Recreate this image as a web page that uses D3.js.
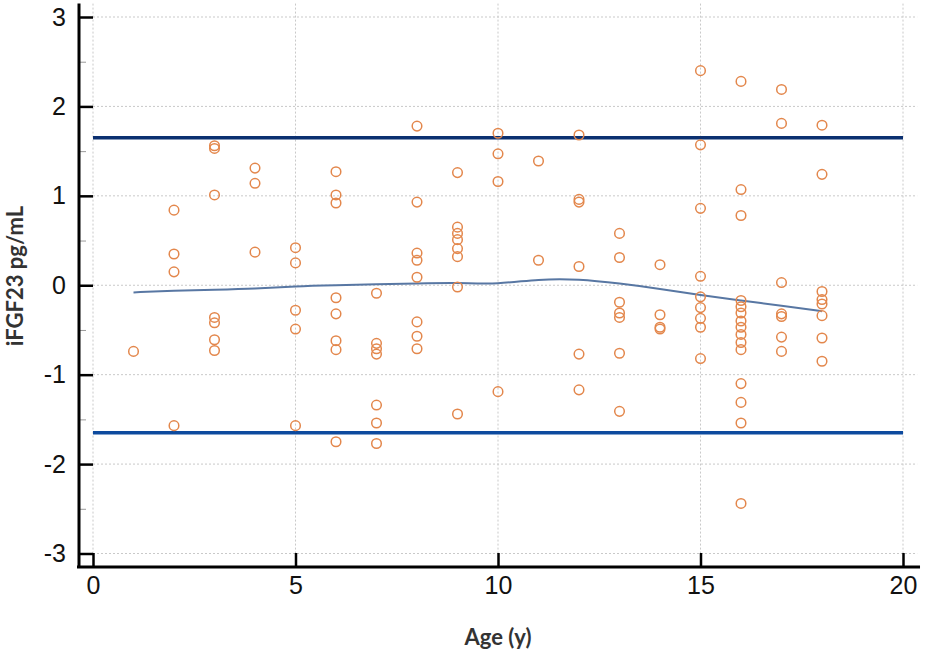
<!DOCTYPE html>
<html>
<head>
<meta charset="utf-8">
<script src="https://cdn.jsdelivr.net/npm/d3@7"></script>
<style>
  body { margin: 0; background: #fff; }
  svg { display: block; }
</style>
</head>
<body>
<div id="chart"></div>
<script>
"use strict"

// ages (years) and iFGF23 z-scores, one entry per point
const ages = [
  1,
  2, 2, 2, 2,
  3, 3, 3, 3, 3, 3, 3,
  4, 4, 4,
  5, 5, 5, 5, 5,
  6, 6, 6, 6, 6, 6, 6, 6,
  7, 7, 7, 7, 7, 7, 7,
  8, 8, 8, 8, 8, 8, 8, 8,
  9, 9, 9, 9, 9, 9, 9, 9,
  10, 10, 10, 10,
  11, 11,
  12, 12, 12, 12, 12, 12,
  13, 13, 13, 13, 13, 13, 13,
  14, 14, 14, 14,
  15, 15, 15, 15, 15, 15, 15, 15, 15,
  16, 16, 16, 16, 16, 16, 16, 16, 16, 16, 16, 16, 16, 16, 16,
  17, 17, 17, 17, 17, 17, 17,
  18, 18, 18, 18, 18, 18, 18, 18
];
const zScores = [
  -0.74,
  0.84, 0.35, 0.15, -1.57,
  1.56, 1.53, 1.01, -0.36, -0.42, -0.61, -0.73,
  1.31, 1.14, 0.37,
  0.42, 0.25, -0.28, -0.49, -1.57,
  1.27, 1.01, 0.92, -0.14, -0.32, -0.62, -0.72, -1.75,
  -0.09, -0.65, -0.71, -0.77, -1.34, -1.54, -1.77,
  1.78, 0.93, 0.36, 0.28, 0.09, -0.41, -0.57, -0.71,
  1.26, 0.65, 0.58, 0.51, 0.41, 0.32, -0.02, -1.44,
  1.70, 1.47, 1.16, -1.19,
  1.39, 0.28,
  1.68, 0.96, 0.93, 0.21, -0.77, -1.17,
  0.58, 0.31, -0.19, -0.31, -0.36, -0.76, -1.41,
  0.23, -0.33, -0.47, -0.49,
  2.40, 1.57, 0.86, 0.10, -0.13, -0.25, -0.37, -0.47, -0.82,
  2.28, 1.07, 0.78, -0.17, -0.24, -0.31, -0.40, -0.47, -0.55, -0.64, -0.72, -1.10, -1.31, -1.54, -2.44,
  2.19, 1.81, 0.03, -0.32, -0.35, -0.58, -0.74,
  1.79, 1.24, -0.07, -0.16, -0.21, -0.34, -0.59, -0.85
];

// smoothed trend line through the points
const trendAges = [1, 2, 3, 4, 5, 6, 7, 8, 9, 10, 11, 12, 13, 14, 15, 16, 17, 18];
const trendValues = [-0.08, -0.06, -0.05, -0.04, -0.01, 0.0, 0.01, 0.02, 0.03, 0.01, 0.07, 0.07, 0.02, -0.04, -0.11, -0.17, -0.23, -0.29];

// reference limits (+/- 1.65)
const limits = [1.65, -1.65];

const xTicks = [0, 5, 10, 15, 20];
const yTicks = [-3, -2, -1, 0, 1, 2, 3];
const yMinorTicks = [-2.5, -1.5, -0.5, 0.5, 1.5, 2.5];

const width = 946, height = 652;

let drawing = d3.select("#chart")
  .append("svg")
  .attr("width", width)
  .attr("height", height);

let x = d3.scaleLinear().domain([0, 20]).range([93, 903]);
let y = d3.scaleLinear().domain([-3, 3]).range([553.5, 17]);

let axisY = 567;   // where the x axis sits
let axisX = 79;    // where the y axis sits

// dotted grid
drawing.append("g")
  .selectAll("line")
  .data(yTicks)
  .join("line")
  .attr("x1", x(0))
  .attr("x2", x(20.35))
  .attr("y1", d => y(d))
  .attr("y2", d => y(d))
  .attr("stroke", "#c9c9c9")
  .attr("stroke-width", 1)
  .attr("stroke-dasharray", "2,2");

drawing.append("g")
  .selectAll("line")
  .data(xTicks)
  .join("line")
  .attr("x1", d => x(d))
  .attr("x2", d => x(d))
  .attr("y1", y(3.15))
  .attr("y2", y(-3))
  .attr("stroke", "#c9c9c9")
  .attr("stroke-width", 1)
  .attr("stroke-dasharray", "2,2");

// limit lines
drawing.append("g")
  .selectAll("line")
  .data(limits)
  .join("line")
  .attr("x1", x(0))
  .attr("x2", x(20))
  .attr("y1", d => y(d))
  .attr("y2", d => y(d))
  .attr("stroke", (d, i) => i === 0 ? "#0b3070" : "#0d4a9e")
  .attr("stroke-width", 3.5);

// trend line
drawing.append("path")
  .datum(trendAges.map((a, i) => [a, trendValues[i]]))
  .attr("d", d3.line().x(d => x(d[0])).y(d => y(d[1])).curve(d3.curveBasis))
  .attr("fill", "none")
  .attr("stroke", "#5877a3")
  .attr("stroke-width", 2);

// points
drawing.append("g")
  .selectAll("circle")
  .data(ages.map((a, i) => [a, zScores[i]]))
  .join("circle")
  .attr("cx", d => x(d[0]))
  .attr("cy", d => y(d[1]))
  .attr("r", 4.8)
  .attr("fill", "none")
  .attr("stroke", "#e3874c")
  .attr("stroke-width", 1.5);

// axes, ticks pointing inward
let xAxis = drawing.append("g")
  .attr("transform", "translate(0," + axisY + ")")
  .call(d3.axisBottom(x).tickValues(xTicks).tickSizeInner(-14).tickSizeOuter(0).tickPadding(9).tickFormat(d3.format("d")));

let yAxis = drawing.append("g")
  .attr("transform", "translate(" + axisX + ",0)")
  .call(d3.axisLeft(y).tickValues(yTicks).tickSizeInner(-14).tickSizeOuter(0).tickPadding(13).tickFormat(d3.format("d")));

drawing.append("g")
  .attr("transform", "translate(" + axisX + ",0)")
  .call(d3.axisLeft(y).tickValues(yMinorTicks).tickSize(-7).tickFormat(""))
  .call(g => g.select(".domain").remove())
  .selectAll("line")
  .attr("stroke", "#9a9a9a")
  .attr("stroke-width", 1);

[xAxis, yAxis].forEach(g => {
  g.select(".domain").remove();
  g.selectAll(".tick line").attr("stroke", "#000").attr("stroke-width", 2.5);
  g.selectAll("text")
    .attr("fill", "#111")
    .style("font-family", "'Liberation Sans', Arial, sans-serif")
    .style("font-size", "25px");
});

// y labels use a hyphen-minus like the original
yAxis.selectAll("text").text(d => String(d));

// axis lines drawn separately so they run past the tick range
drawing.append("line")
  .attr("x1", axisX - 2)
  .attr("x2", x(20.42))
  .attr("y1", axisY)
  .attr("y2", axisY)
  .attr("stroke", "#000")
  .attr("stroke-width", 3);

drawing.append("line")
  .attr("x1", axisX)
  .attr("x2", axisX)
  .attr("y1", y(3.15))
  .attr("y2", axisY)
  .attr("stroke", "#000")
  .attr("stroke-width", 3);

// titles
drawing.append("text")
  .attr("x", x(10))
  .attr("y", 645)
  .attr("text-anchor", "middle")
  .attr("fill", "#333")
  .style("font-family", "Lato, 'Open Sans', sans-serif")
  .style("font-weight", "700")
  .style("font-size", "22px")
  .text("Age (y)");

drawing.append("text")
  .attr("transform", "translate(23,276) rotate(-90)")
  .attr("text-anchor", "middle")
  .attr("fill", "#333")
  .style("font-family", "Lato, 'Open Sans', sans-serif")
  .style("font-weight", "700")
  .style("font-size", "22px")
  .text("iFGF23 pg/mL");
</script>
</body>
</html>
